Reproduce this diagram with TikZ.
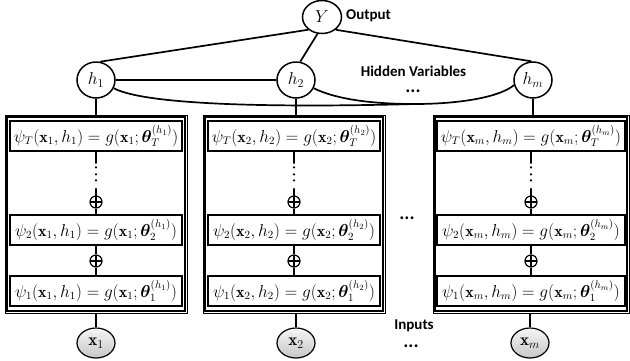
\documentclass[tikz,border=0pt]{standalone}
\usepackage{amsmath}
\usepackage{bm}
\usepackage{fontspec}
\setsansfont{Carlito}
\usetikzlibrary{shapes.geometric}

\begin{document}
\begin{tikzpicture}[x=1pt,y=-1pt,
    var/.style={ellipse,draw,line width=1.5pt,minimum width=38pt,minimum height=36pt,inner sep=0pt,font=\fontsize{17}{20}\selectfont},
    inp/.style={ellipse,draw,line width=1.2pt,top color=black!4,bottom color=black!22,minimum width=38pt,minimum height=30pt,inner sep=0pt,font=\fontsize{17}{20}\selectfont},
    marco/.style={draw,line width=0.8pt,minimum height=198pt,inner sep=0pt},
    dentro/.style={line width=1.5pt},
    psibox/.style={draw,line width=1.8pt,minimum height=30pt,inner sep=1pt,font=\fontsize{16}{19}\selectfont},
    suma/.style={circle,draw,line width=1.2pt,minimum size=12pt,inner sep=0pt,
      path picture={\draw[line width=1.2pt] (path picture bounding box.north) -- (path picture bounding box.south)
        (path picture bounding box.west) -- (path picture bounding box.east);}},
    etiq/.style={font=\sffamily\bfseries\fontsize{15}{18}\selectfont,inner sep=0pt},
    tres/.style={font=\sffamily\bfseries\fontsize{19}{20}\selectfont,inner sep=0pt},
    conex/.style={line width=1.7pt},
    puntos/.style={line width=2.4pt,line cap=round,
      dash pattern=on 11pt off 4.5pt on 0pt off 7pt on 0pt off 6pt on 0pt off 8.5pt on 40pt}]
    \useasboundingbox (0,0) rectangle (630,360);

    %Salida y variables ocultas
    \node[var,minimum width=39pt,minimum height=33pt] (Y) at (322,17) {$Y$};
    \node[etiq] (out) at (368.5,16) {Output};
    \node[var] (h1) at (96,80) {$h_1$};
    \node[var] (h2) at (296,80) {$h_2$};
    \node[var] (hm) at (533,80) {$h_m$};
    \node[etiq] (hid) at (413.5,71.5) {Hidden Variables};
    \node[tres] (hdots) at (413,91) {...};
    \coordinate (une) at (415,104);

    \draw[conex] (Y.223) -- (h1.77);
    \draw[conex] (Y.255) -- (h2.77);
    \draw[conex] (Y.-43) -- (hm.95);
    \draw[conex] (h1.east) -- (h2.west);
    %Curvas hacia h_m
    \draw[conex] (h1.-25) .. controls (150,107) and (300,107) .. (une);
    \draw[conex] (h2.-25) .. controls (340,101) and (380,104) .. (une);
    \draw[conex] (une) .. controls (460,104) and (500,97) .. (hm.195);

    %Columna 1
    \node[marco,minimum width=182pt] (o1) at (96,214) {};
    \draw[dentro] ([xshift=2.3pt,yshift=-2.3pt]o1.north west) rectangle ([xshift=-2.3pt,yshift=2.3pt]o1.south east);
    \node[psibox,minimum width=172pt] (T1) at (96,136) {$\psi_T(\mathbf{x}_1,h_1)=g(\mathbf{x}_1;\bm{\theta}_T^{(h_1)})$};
    \node[suma] (pa1) at (96,202) {};
    \node[psibox,minimum width=172pt] (P21) at (96,230) {$\psi_2(\mathbf{x}_1,h_1)=g(\mathbf{x}_1;\bm{\theta}_2^{(h_1)})$};
    \node[suma] (pb1) at (96,261) {};
    \node[psibox,minimum width=172pt] (P11) at (96,291) {$\psi_1(\mathbf{x}_1,h_1)=g(\mathbf{x}_1;\bm{\theta}_1^{(h_1)})$};
    \node[inp] (x1) at (96,343) {$\mathbf{x}_1$};
    \draw[conex] (h1.south) -- (o1.north);
    \draw[puntos] (T1.south) -- (pa1.north);
    \draw[conex] (pa1.south) -- (P21.north);
    \draw[conex] (P21.south) -- (pb1.north);
    \draw[conex] (pb1.south) -- (P11.north);
    \draw[conex] (o1.south) -- (x1.north);

    %Columna 2
    \node[marco,minimum width=182pt] (o2) at (294,214) {};
    \draw[dentro] ([xshift=2.3pt,yshift=-2.3pt]o2.north west) rectangle ([xshift=-2.3pt,yshift=2.3pt]o2.south east);
    \node[psibox,minimum width=172pt] (T2) at (294,136) {$\psi_T(\mathbf{x}_2,h_2)=g(\mathbf{x}_2;\bm{\theta}_T^{(h_2)})$};
    \node[suma] (pa2) at (294,202) {};
    \node[psibox,minimum width=172pt] (P22) at (294,230) {$\psi_2(\mathbf{x}_2,h_2)=g(\mathbf{x}_2;\bm{\theta}_2^{(h_2)})$};
    \node[suma] (pb2) at (294,261) {};
    \node[psibox,minimum width=172pt] (P12) at (294,291) {$\psi_1(\mathbf{x}_2,h_2)=g(\mathbf{x}_2;\bm{\theta}_1^{(h_2)})$};
    \node[inp] (x2) at (296,343) {$\mathbf{x}_2$};
    \draw[conex] (h2.south) -- (h2.south |- o2.north);
    \draw[puntos] (T2.south) -- (pa2.north);
    \draw[conex] (pa2.south) -- (P22.north);
    \draw[conex] (P22.south) -- (pb2.north);
    \draw[conex] (pb2.south) -- (P12.north);
    \draw[conex] (x2.north |- o2.south) -- (x2.north);

    %Columna m
    \node[marco,minimum width=196pt] (om) at (531,214) {};
    \draw[dentro] ([xshift=2.3pt,yshift=-2.3pt]om.north west) rectangle ([xshift=-2.3pt,yshift=2.3pt]om.south east);
    \node[psibox,minimum width=188pt] (Tm) at (531,136) {$\psi_T(\mathbf{x}_m,h_m)=g(\mathbf{x}_m;\bm{\theta}_T^{(h_m)})$};
    \node[suma] (pam) at (531,202) {};
    \node[psibox,minimum width=188pt] (P2m) at (531,230) {$\psi_2(\mathbf{x}_m,h_m)=g(\mathbf{x}_m;\bm{\theta}_2^{(h_m)})$};
    \node[suma] (pbm) at (531,261) {};
    \node[psibox,minimum width=188pt] (P1m) at (531,291) {$\psi_1(\mathbf{x}_m,h_m)=g(\mathbf{x}_m;\bm{\theta}_1^{(h_m)})$};
    \node[inp] (xm) at (530,343) {$\mathbf{x}_m$};
    \draw[conex] (hm.south) -- (hm.south |- om.north);
    \draw[puntos] (Tm.south) -- (pam.north);
    \draw[conex] (pam.south) -- (P2m.north);
    \draw[conex] (P2m.south) -- (pbm.north);
    \draw[conex] (pbm.south) -- (P1m.north);
    \draw[conex] (xm.north |- om.south) -- (xm.north);

    %Puntos y entradas
    \node[tres] (cdots) at (407,218) {...};
    \node[etiq] (inp) at (414,326) {Inputs};
    \node[tres] (idots) at (411,346) {...};
\end{tikzpicture}
\end{document}
